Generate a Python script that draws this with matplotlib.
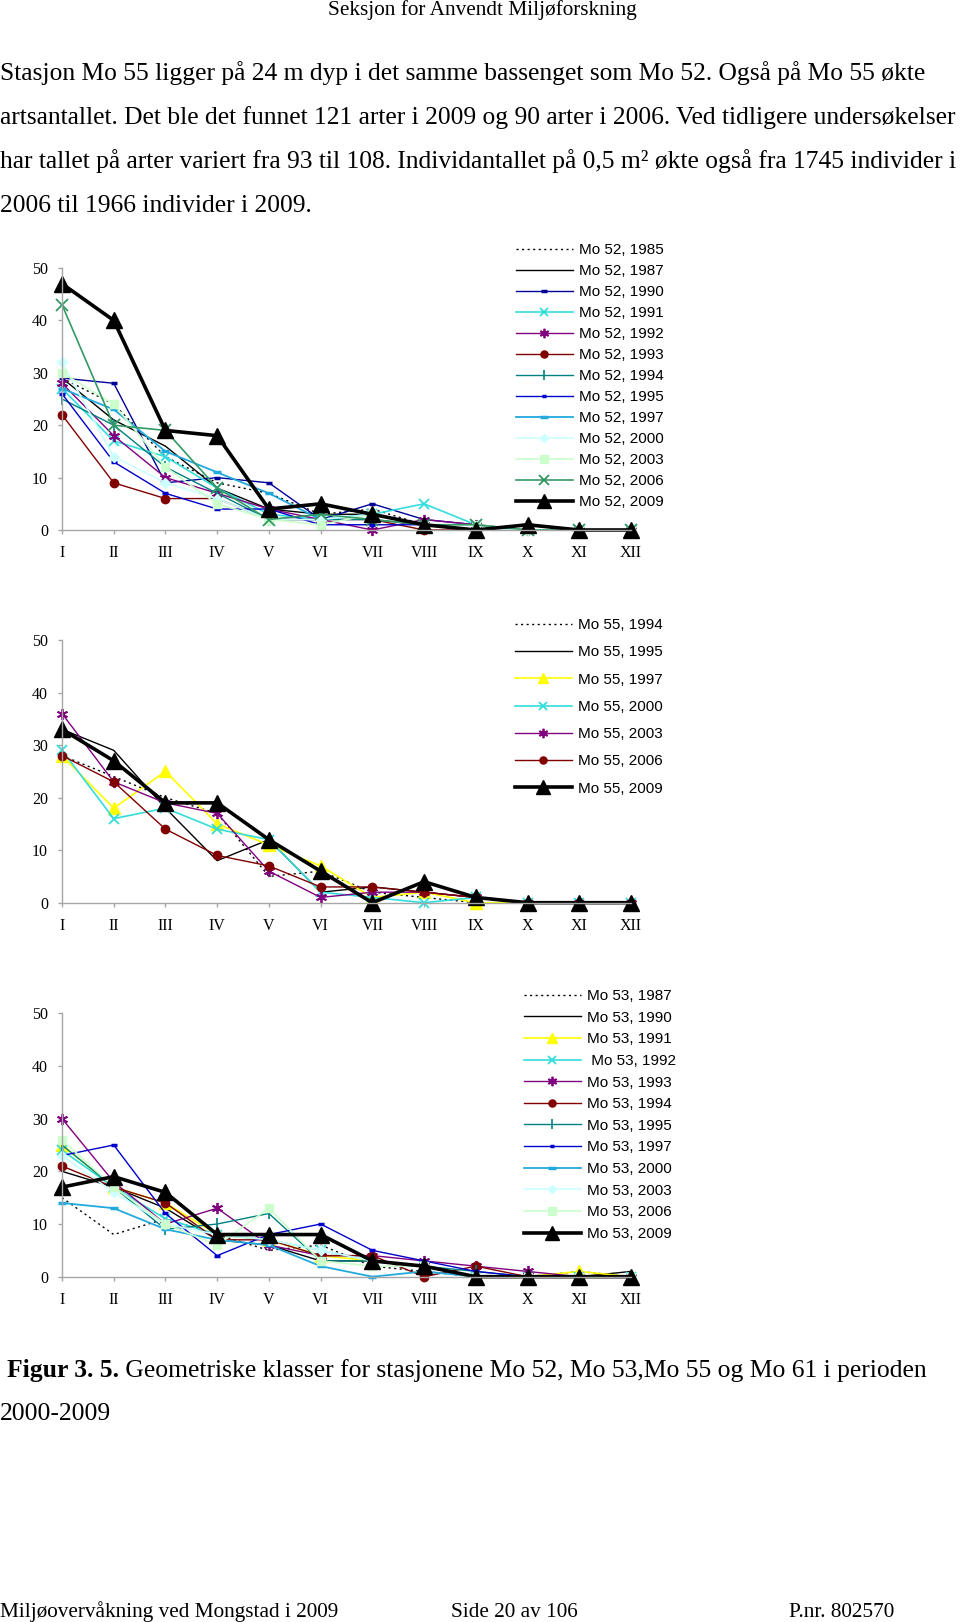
import matplotlib
matplotlib.use("Agg")
import matplotlib.pyplot as plt

W, H = 960, 1622
SERIF = "Liberation Serif"
SANS = "Liberation Sans"
plt.rcParams["font.family"] = [SERIF, "DejaVu Serif"]

MONTHS = ["I", "II", "III", "IV", "V", "VI", "VII", "VIII", "IX", "X", "XI", "XII"]

# ---- Mo 52 ----
MO52_1985 = [29, 24, 14, 9, 7, 3, 4, 1, 0, 0, 0, 0]
MO52_1987 = [29, 21, 16, 8, 4, 3, 3, 1, 0, 0, 0, 0]
MO52_1990 = [29, 28, 9, 10, 9, 2, 5, 2, 1, 0, 0, 0]
MO52_1991 = [27, 17, 14, 8, 3, 2, 3, 5, 1, 0, 0, 0]
MO52_1992 = [28, 18, 10, 7, 4, 2, 0, 2, 1, 0, 0, 0]
MO52_1993 = [22, 9, 6, 6, 2, 2, 2, 0, 0, 0, 0, 0]
MO52_1994 = [25, 20, 12, 7, 2, 2, 2, 1, 0, 0, 0, 0]
MO52_1995 = [26, 13, 7, 4, 4, 1, 1, 1, 0, 0, 0, 0]
MO52_1997 = [27, 23, 15, 11, 7, 2, 3, 1, 0, 0, 0, 0]
MO52_2000 = [32, 14, 9, 6, 2, 2, 3, 1, 0, 0, 0, 0]
MO52_2003 = [30, 24, 12, 5, 2, 1, 3, 1, 1, 0, 0, 0]
MO52_2006 = [43, 20, 19, 8, 2, 3, 2, 1, 1, 0, 0, 0]
MO52_2009 = [47, 40, 19, 18, 4, 5, 3, 1, 0, 1, 0, 0]

# ---- Mo 55 ----
MO55_1994 = [28, 24, 20, 17, 5, 6, 2, 1, 0, 0, 0, 0]
MO55_1995 = [33, 29, 18, 8, 12, 2, 3, 2, 1, 0, 0, 0]
MO55_1997 = [28, 18, 25, 15, 11, 7, 1, 2, 0, 0, 0, 0]
MO55_2000 = [29, 16, 18, 14, 12, 2, 1, 0, 1, 0, 0, 0]
MO55_2003 = [36, 23, 19, 17, 6, 1, 2, 2, 1, 0, 0, 0]
MO55_2006 = [28, 23, 14, 9, 7, 3, 3, 2, 1, 0, 0, 0]
MO55_2009 = [33, 27, 19, 19, 12, 6, 0, 4, 1, 0, 0, 0]

# ---- Mo 53 ----
MO53_1987 = [15, 8, 11, 8, 5, 6, 2, 1, 0, 0, 1, 0]
MO53_1990 = [20, 17, 13, 7, 6, 3, 3, 2, 0, 0, 0, 1]
MO53_1991 = [25, 17, 14, 8, 7, 4, 3, 2, 0, 0, 1, 0]
MO53_1992 = [24, 17, 11, 8, 7, 5, 3, 2, 0, 0, 0, 0]
MO53_1993 = [30, 18, 10, 13, 6, 4, 4, 3, 2, 1, 0, 0]
MO53_1994 = [21, 17, 14, 7, 7, 4, 4, 0, 2, 0, 0, 0]
MO53_1995 = [25, 17, 9, 10, 12, 3, 3, 2, 1, 0, 0, 0]
MO53_1997 = [23, 25, 12, 4, 8, 10, 5, 3, 1, 0, 0, 0]
MO53_2000 = [14, 13, 9, 7, 6, 2, 0, 1, 0, 0, 0, 0]
MO53_2003 = [23, 16, 10, 8, 7, 5, 3, 2, 0, 0, 0, 0]
MO53_2006 = [26, 17, 10, 6, 13, 3, 2, 2, 0, 0, 0, 0]
MO53_2009 = [17, 19, 16, 8, 8, 8, 3, 2, 0, 0, 0, 0]

STYLES = {
    "dotted": dict(color="black", lw=1.0, ls=(0, (1.5, 2.5))),
    "black": dict(color="black", lw=1.0),
    "navy": dict(color="#000099", lw=1.0, marker="_", ms=5, mew=2.5),
    "cyan": dict(color="#33dddd", lw=1.2, marker="x", ms=7, mew=1.3),
    "purple": dict(color="#800080", lw=1.0, marker=(6, 2, 0), ms=8, mew=1.3),
    "red": dict(color="#800000", lw=1.0, marker="o", ms=6),
    "teal": dict(color="#008080", lw=1.0, marker="|", ms=8, mew=1.2),
    "blue": dict(color="#0000cc", lw=1.0, marker="_", ms=4, mew=2.5),
    "sky": dict(color="#22aadd", lw=1.3, marker="_", ms=6, mew=2.5),
    "icecyan": dict(color="#ccffff", lw=1.2, marker="D", ms=5),
    "mint": dict(color="#ccffcc", lw=1.2, marker="s", ms=6),
    "seagreen": dict(color="#339966", lw=1.2, marker="x", ms=8, mew=1.3),
    "yellow": dict(color="#ffff00", lw=1.2, marker="^", ms=8),
    "bold": dict(color="black", lw=2.6, marker="^", ms=12),
}

MO52 = [
    ("Mo 52, 1985", MO52_1985, "dotted"), ("Mo 52, 1987", MO52_1987, "black"),
    ("Mo 52, 1990", MO52_1990, "navy"), ("Mo 52, 1991", MO52_1991, "cyan"),
    ("Mo 52, 1992", MO52_1992, "purple"), ("Mo 52, 1993", MO52_1993, "red"),
    ("Mo 52, 1994", MO52_1994, "teal"), ("Mo 52, 1995", MO52_1995, "blue"),
    ("Mo 52, 1997", MO52_1997, "sky"), ("Mo 52, 2000", MO52_2000, "icecyan"),
    ("Mo 52, 2003", MO52_2003, "mint"), ("Mo 52, 2006", MO52_2006, "seagreen"),
    ("Mo 52, 2009", MO52_2009, "bold"),
]
MO55 = [
    ("Mo 55, 1994", MO55_1994, "dotted"), ("Mo 55, 1995", MO55_1995, "black"),
    ("Mo 55, 1997", MO55_1997, "yellow"), ("Mo 55, 2000", MO55_2000, "cyan"),
    ("Mo 55, 2003", MO55_2003, "purple"), ("Mo 55, 2006", MO55_2006, "red"),
    ("Mo 55, 2009", MO55_2009, "bold"),
]
MO53 = [
    ("Mo 53, 1987", MO53_1987, "dotted"), ("Mo 53, 1990", MO53_1990, "black"),
    ("Mo 53, 1991", MO53_1991, "yellow"), (" Mo 53, 1992", MO53_1992, "cyan"),
    ("Mo 53, 1993", MO53_1993, "purple"), ("Mo 53, 1994", MO53_1994, "red"),
    ("Mo 53, 1995", MO53_1995, "teal"), ("Mo 53, 1997", MO53_1997, "blue"),
    ("Mo 53, 2000", MO53_2000, "sky"), ("Mo 53, 2003", MO53_2003, "icecyan"),
    ("Mo 53, 2006", MO53_2006, "mint"), ("Mo 53, 2009", MO53_2009, "bold"),
]


def px_axes(fig, left, top, right, bottom):
    return fig.add_axes([left / W, 1 - bottom / H, (right - left) / W, (bottom - top) / H])


def draw_panel(fig, rect, series, leg_xy, spacing):
    ax = px_axes(fig, *rect)
    x = list(range(len(MONTHS)))
    for label, vals, key in series:
        ax.plot(x, vals, label=label, clip_on=False, **STYLES[key])
    ax.set_xlim(0, 11)
    ax.set_ylim(0, 50)
    ax.set_xticks(x)
    ax.set_xticklabels(MONTHS)
    ax.set_yticks(range(0, 51, 10))
    for s in ("top", "right"):
        ax.spines[s].set_visible(False)
    for s in ("left", "bottom"):
        ax.spines[s].set_color("#a6a6a6")
        ax.spines[s].set_linewidth(1.0)
    ax.tick_params(axis="both", colors="#a6a6a6", length=3, width=1.0,
                   labelsize=11.5, labelcolor="black")
    ax.tick_params(axis="x", pad=8)
    ax.tick_params(axis="y", pad=7)
    ax.patch.set_alpha(0)
    ax.legend(loc="upper left", bbox_to_anchor=(leg_xy[0] / W, 1 - leg_xy[1] / H),
              bbox_transform=fig.transFigure, frameon=False, borderpad=0,
              borderaxespad=0, handlelength=3.7, handletextpad=0.4,
              labelspacing=spacing, numpoints=1, markerscale=0.85,
              prop={"family": SANS, "size": 11})
    return ax


def fit_size(fig, s, width, weight="normal", base=20.0):
    t = fig.text(0, 0, s, fontsize=base, weight=weight)
    w = t.get_window_extent(fig.canvas.get_renderer()).width
    t.remove()
    return base * width / w


fig = plt.figure(figsize=(W / 100, H / 100), dpi=100)

draw_panel(fig, (62, 268, 631, 530), MO52, (516, 243), 0.46)
draw_panel(fig, (62, 640, 631, 902.7), MO55, (515, 618), 0.87)
draw_panel(fig, (62, 1013.3, 631, 1276.7), MO53, (524, 989), 0.5)

# ---- page text ----
header = "Seksjon for Anvendt Miljøforskning"
fig.text(328 / W, 1 - 15 / H, header, fontsize=fit_size(fig, header, 308),
         va="baseline")

body = [
    "Stasjon Mo 55 ligger på 24 m dyp i det samme bassenget som Mo 52. Også på Mo 55 økte",
    "artsantallet. Det ble det funnet 121 arter i 2009 og 90 arter i 2006. Ved tidligere undersøkelser",
    "har tallet på arter variert fra 93 til 108. Individantallet på 0,5 m² økte også fra 1745 individer i",
    "2006 til 1966 individer i 2009.",
]
body_fs = fit_size(fig, body[1], 958)
for line, base_y in zip(body, [80, 124, 168, 212]):
    fig.text(0, 1 - base_y / H, line, fontsize=body_fs, va="baseline")

cap_bold = "Figur 3. 5."
cap_rest = " Geometriske klasser for stasjonene Mo 52, Mo 53,Mo 55 og Mo 61 i perioden"
cap_fs = fit_size(fig, cap_rest, 924 - 117)
tb = fig.text(7 / W, 1 - 1377 / H, cap_bold, fontsize=cap_fs, weight="bold", va="baseline")
bw = tb.get_window_extent(fig.canvas.get_renderer()).width
fig.text((7 + bw) / W, 1 - 1377 / H, cap_rest, fontsize=cap_fs, va="baseline")
fig.text(0, 1 - 1420 / H, "2000-2009", fontsize=cap_fs, va="baseline")

foot_fs = fit_size(fig, "Miljøovervåkning ved Mongstad i 2009", 338)
for xpos, s in [(0, "Miljøovervåkning ved Mongstad i 2009"), (451, "Side 20 av 106"),
                (789, "P.nr. 802570")]:
    fig.text(xpos / W, 1 - 1617 / H, s, fontsize=foot_fs, va="baseline")

fig.savefig("out.png", dpi=100)
